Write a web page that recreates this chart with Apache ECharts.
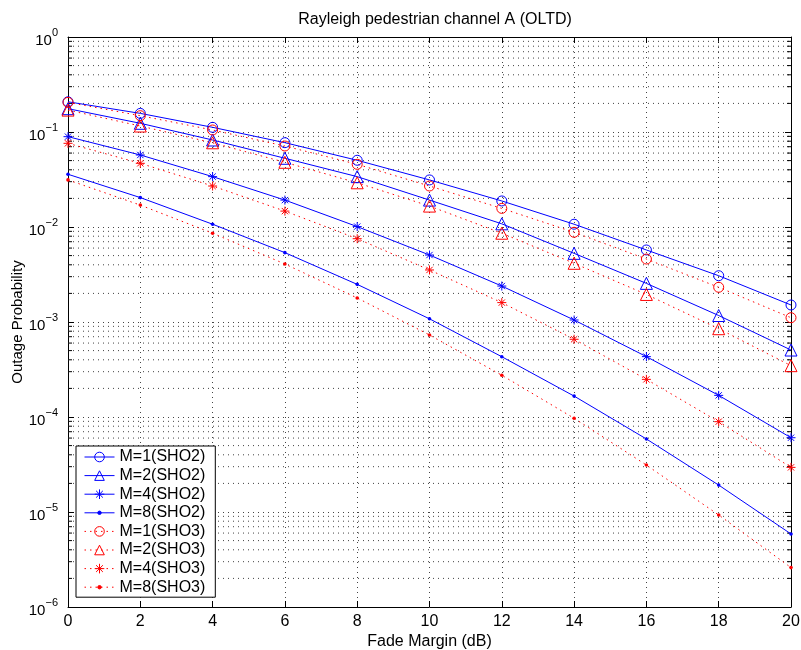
<!DOCTYPE html>
<html>
<head>
<meta charset="utf-8">
<script src="https://cdn.jsdelivr.net/npm/echarts@6/dist/echarts.min.js"></script>
<style>
html,body{margin:0;padding:0;background:#fff;}
#chart{width:801px;height:650px;}
</style>
</head>
<body>
<div id="chart"></div>
<script>
// ---- data ----
const fadeMargin = [0, 2, 4, 6, 8, 10, 12, 14, 16, 18, 20];
const m1Sho2 = [0.208, 0.157, 0.112, 0.0772, 0.0504, 0.0313, 0.0188, 0.0107, 0.00573, 0.00307, 0.00151];
const m2Sho2 = [0.176, 0.1235, 0.0824, 0.0529, 0.0339, 0.0192, 0.0108, 0.00528, 0.00255, 0.00117, 0.000507];
const m4Sho2 = [0.0893, 0.0573, 0.0339, 0.0192, 0.0101, 0.00507, 0.00239, 0.00105, 0.000432, 0.000169, 0.0000605];
const m8Sho2 = [0.0359, 0.0204, 0.0107, 0.00537, 0.00249, 0.00108, 0.000431, 0.000166, 0.0000587, 0.0000192, 0.00000587];
const m1Sho3 = [0.205, 0.1485, 0.105, 0.0712, 0.0457, 0.027, 0.0157, 0.0088, 0.0046, 0.00232, 0.00111];
const m2Sho3 = [0.17, 0.1156, 0.077, 0.048, 0.0292, 0.0166, 0.0086, 0.00415, 0.00195, 0.00085, 0.000347];
const m4Sho3 = [0.076, 0.0468, 0.027, 0.0147, 0.00753, 0.00353, 0.0016, 0.000658, 0.000249, 0.0000893, 0.0000295];
const m8Sho3 = [0.0313, 0.017, 0.0086, 0.00408, 0.00179, 0.00073, 0.000275, 0.000097, 0.0000312, 0.0000093, 0.0000026];
const seriesNames = ['M=1(SHO2)', 'M=2(SHO2)', 'M=4(SHO2)', 'M=8(SHO2)', 'M=1(SHO3)', 'M=2(SHO3)', 'M=4(SHO3)', 'M=8(SHO3)'];
const yTickExponents = [-6, -5, -4, -3, -2, -1, 0];
const xTicks = [0, 2, 4, 6, 8, 10, 12, 14, 16, 18, 20];

// minor log grid values (2..9 x 10^d)
const minorVals = [];
for (let d = -6; d < 0; d++) for (let k = 2; k <= 9; k++) minorVals.push(k * Math.pow(10, d));

const BLUE = '#0000ff', RED = '#ff0000';
const STAR = 'path://M5 0 L5 10 M0 5 L10 5 M1.5 1.5 L8.5 8.5 M8.5 1.5 L1.5 8.5';
// small dot inside a 10x10 box (so legend and plot both show a small dot)
const DOT = 'path://M0 0 M10 10 M5 3.2 A1.8 1.8 0 1 1 5 6.8 A1.8 1.8 0 1 1 5 3.2 Z';

function pairs(arr) { return fadeMargin.map((x, i) => [x, arr[i]]); }

function mk(name, arr, color, symbol, size, dotted) {
  const hollow = symbol !== DOT;
  return {
    name: name,
    type: 'line',
    data: pairs(arr),
    symbol: symbol,
    symbolSize: size,
    showAllSymbol: true,
    z: 5,
    lineStyle: { color: color, width: 1, type: dotted ? [1.5, 4] : 'solid' },
    itemStyle: hollow
      ? { color: 'rgba(0,0,0,0)', borderColor: color, borderWidth: 1 }
      : { color: color, borderColor: color, borderWidth: 0 },
    emphasis: { disabled: true }
  };
}

const series = [
  mk(seriesNames[0], m1Sho2, BLUE, 'circle', 10, false),
  mk(seriesNames[1], m2Sho2, BLUE, 'triangle', 12, false),
  mk(seriesNames[2], m4Sho2, BLUE, STAR, 9, false),
  mk(seriesNames[3], m8Sho2, BLUE, DOT, 10, false),
  mk(seriesNames[4], m1Sho3, RED, 'circle', 10, true),
  mk(seriesNames[5], m2Sho3, RED, 'triangle', 12, true),
  mk(seriesNames[6], m4Sho3, RED, STAR, 9, true),
  mk(seriesNames[7], m8Sho3, RED, DOT, 10, true)
];

// minor grid lines + minor ticks (decoration)
series.push({
  type: 'custom',
  silent: true,
  z: 1,
  data: minorVals.map(v => [0, v]),
  renderItem: function (params, api) {
    const v = api.value(1);
    const p0 = api.coord([0, v]);
    const p1 = api.coord([20, v]);
    return {
      type: 'group',
      children: [
        { type: 'line', shape: { x1: p0[0], y1: p0[1], x2: p1[0], y2: p1[1] },
          style: { stroke: '#444', lineWidth: 1, lineDash: [1, 4] } },
        { type: 'line', shape: { x1: p0[0], y1: p0[1], x2: p0[0] + 4, y2: p0[1] },
          style: { stroke: '#000', lineWidth: 1 } },
        { type: 'line', shape: { x1: p1[0] - 4, y1: p1[1], x2: p1[0], y2: p1[1] },
          style: { stroke: '#000', lineWidth: 1 } }
      ]
    };
  }
});

const axisFont = 'Liberation Sans, Arial, Helvetica, sans-serif';
const chart = echarts.init(document.getElementById('chart'), null, { renderer: 'canvas' });
chart.setOption({
  animation: false,
  backgroundColor: '#fff',
  title: {
    text: 'Rayleigh pedestrian channel A (OLTD)',
    left: 430, top: 7, textAlign: 'center',
    textStyle: { fontFamily: axisFont, fontSize: 16, fontWeight: 'normal', color: '#000' }
  },
  grid: { left: 68, right: 10, top: 37, bottom: 43, containLabel: false, outerBoundsMode: 'none' },
  legend: {
    data: seriesNames,
    orient: 'vertical',
    left: 76, top: 446,
    itemWidth: 30, itemHeight: 12, itemGap: 2.6,
    padding: [3, 10, 2, 8],
    backgroundColor: '#fff',
    borderColor: '#000', borderWidth: 1,
    lineStyle: { width: 1 },
    itemStyle: { borderWidth: 1 },
    textStyle: { fontFamily: axisFont, fontSize: 16, color: '#000' },
    z: 10
  },
  xAxis: [{
    type: 'value', min: 0, max: 20, interval: 2,
    name: 'Fade Margin (dB)', nameLocation: 'middle', nameGap: 27, nameMoveOverlap: false,
    nameTextStyle: { fontFamily: axisFont, fontSize: 16, color: '#000' },
    axisLine: { lineStyle: { color: '#000', width: 1 } },
    axisTick: { inside: true, length: 6, lineStyle: { color: '#000' } },
    axisLabel: { fontFamily: axisFont, fontSize: 16, color: '#000', margin: 7,
      formatter: v => String(xTicks[xTicks.indexOf(v)]) },
    splitLine: { show: true, lineStyle: { color: '#444', width: 1, type: [1, 4] } }
  }, {
    type: 'value', min: 0, max: 20, interval: 2, position: 'top',
    axisLine: { onZero: false, lineStyle: { color: '#000', width: 1 } },
    axisTick: { inside: true, length: 6, lineStyle: { color: '#000' } },
    axisLabel: { show: false }, splitLine: { show: false }
  }],
  yAxis: [{
    type: 'log', logBase: 10, min: 1e-6, max: 1, splitNumber: 6,
    name: 'Outage Probability', nameLocation: 'middle', nameGap: 43, nameMoveOverlap: false,
    nameTextStyle: { fontFamily: axisFont, fontSize: 15, color: '#000' },
    axisLine: { lineStyle: { color: '#000', width: 1 } },
    axisTick: { inside: true, length: 6, lineStyle: { color: '#000' } },
    axisLabel: {
      margin: 10, color: '#000',
      formatter: function (v) {
        const e = Math.round(Math.log10(v));
        const idx = yTickExponents.indexOf(e);
        const ex = yTickExponents[idx];
        return '{b|10}{s|' + (ex < 0 ? '\u2212' + (-ex) : ex) + '}';
      },
      rich: {
        b: { fontFamily: axisFont, fontSize: 15, color: '#000', padding: [8, 0, 0, 0] },
        s: { fontFamily: axisFont, fontSize: 11, color: '#000', padding: [0, 0, 8, 0] }
      }
    },
    splitLine: { show: true, lineStyle: { color: '#444', width: 1, type: [1, 4] } }
  }, {
    type: 'log', logBase: 10, min: 1e-6, max: 1, splitNumber: 6, position: 'right',
    axisLine: { onZero: false, lineStyle: { color: '#000', width: 1 } },
    axisTick: { inside: true, length: 6, lineStyle: { color: '#000' } },
    axisLabel: { show: false }, splitLine: { show: false }
  }],
  series: series
});
</script>
</body>
</html>
